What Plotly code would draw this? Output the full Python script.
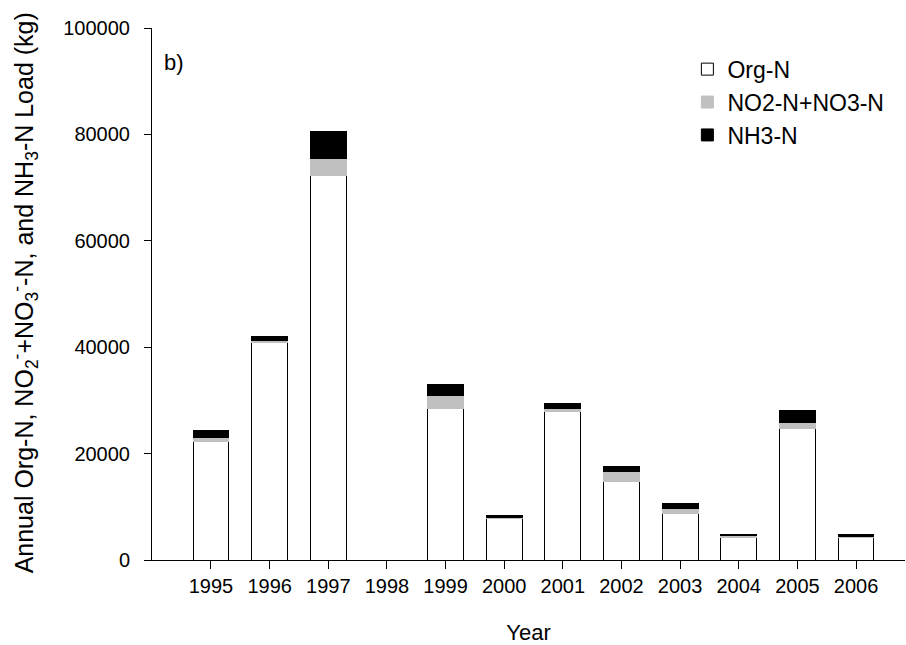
import plotly.graph_objects as go

years = ["1995", "1996", "1997", "1998", "1999", "2000", "2001", "2002", "2003", "2004", "2005", "2006"]
org_n = [22200, 40900, 72200, 0, 28450, 7800, 27900, 14850, 8650, 4300, 24700, 4250]
no_n = [900, 300, 3300, 0, 2450, 100, 600, 1750, 1050, 350, 1100, 100]
nh3_n = [1300, 900, 5100, 0, 2150, 500, 950, 1050, 950, 100, 2250, 400]
y_ticks = [0, 20000, 40000, 60000, 80000, 100000]

FONT = "Liberation Sans, Arial, sans-serif"
line = dict(color="#000000", width=1)

fig = go.Figure()
fig.add_trace(go.Bar(x=years, y=org_n, name="Org-N",
                     marker=dict(color="#ffffff", line=line), width=0.61))
fig.add_trace(go.Bar(x=years, y=no_n, name="NO2-N+NO3-N",
                     marker=dict(color="#c0c0c0", line=dict(color="#c0c0c0", width=1)), width=0.61))
fig.add_trace(go.Bar(x=years, y=nh3_n, name="NH3-N",
                     marker=dict(color="#000000", line=line), width=0.61))

fig.update_layout(
    barmode="stack",
    width=906, height=645,
    margin=dict(l=152, r=1, t=28, b=85, autoexpand=False),
    plot_bgcolor="white", paper_bgcolor="white",
    font=dict(family=FONT, color="#000000", size=20),
    showlegend=True,
    legend=dict(x=0.711, y=0.963, xanchor="left", yanchor="top",
                traceorder="normal", font=dict(size=23, family=FONT),
                bgcolor="rgba(0,0,0,0)", itemclick=False),
    xaxis=dict(
        type="category", range=[-1.006, 11.835],
        showline=True, linecolor="#000000", linewidth=1,
        ticks="outside", ticklen=8, tickcolor="#000000",
        tickfont=dict(size=20, family=FONT),
        showgrid=False, zeroline=False, automargin=False,
        title=dict(text="Year", font=dict(size=22, family=FONT), standoff=31),
    ),
    yaxis=dict(
        range=[0, 100000], tickvals=y_ticks, tickformat="d",
        showline=True, linecolor="#000000", linewidth=1,
        ticks="outside", ticklen=7, tickcolor="#000000",
        tickfont=dict(size=20, family=FONT), ticklabelstandoff=10,
        showgrid=False, zeroline=False, automargin=False,
    ),
    annotations=[
        dict(text="b)", xref="paper", yref="paper", x=0.013, y=0.935,
             xanchor="left", yanchor="middle", showarrow=False,
             font=dict(size=22, family=FONT)),
        dict(text="Annual Org-N, NO<sub>2</sub><sup>-</sup>+NO<sub>3</sub><sup>-</sup>-N, and NH<sub>3</sub>-N Load (kg)",
             xref="paper", yref="paper", x=-0.1687, y=0.503, textangle=-90,
             xanchor="center", yanchor="middle", showarrow=False,
             font=dict(size=25, family=FONT)),
    ],
)

fig.write_html("out.html", config={"displayModeBar": False},
               post_script="document.body.style.margin='0px';document.body.style.overflow='hidden';")
